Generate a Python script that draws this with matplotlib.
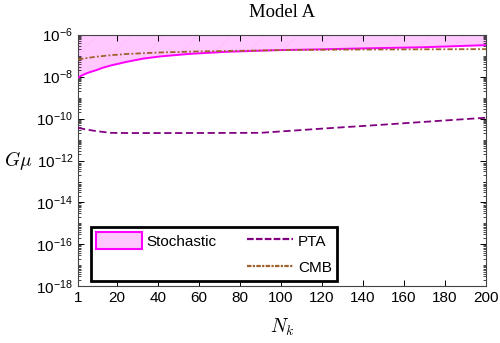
import numpy as np
import matplotlib
matplotlib.use('Agg')
import matplotlib.pyplot as plt
from matplotlib.patches import Patch
from matplotlib.lines import Line2D
from matplotlib.ticker import LogLocator, NullFormatter

plt.rcParams['font.family'] = ['Liberation Sans', 'DejaVu Sans']
plt.rcParams['mathtext.fontset'] = 'custom'
plt.rcParams['mathtext.rm'] = 'Liberation Sans'
plt.rcParams['mathtext.it'] = 'Liberation Sans:italic'
plt.rcParams['hatch.linewidth'] = 0.4

# curves (log10 G mu)
n_stoch = [1, 2, 3, 5, 7, 10, 13, 17, 25, 33, 41, 55, 73, 98, 120, 138, 170, 200]
log_stoch = [-8.04, -7.99, -7.94, -7.85, -7.78, -7.69, -7.58, -7.47, -7.29, -7.14, -7.04,
             -6.92, -6.82, -6.74, -6.70, -6.66, -6.60, -6.50]

n_cmb = [1, 5, 10, 17, 25, 41, 60, 80, 98, 120, 138, 170, 200]
log_cmb = [-7.18, -7.12, -7.05, -6.98, -6.92, -6.85, -6.80, -6.77, -6.74, -6.72, -6.71, -6.70, -6.69]

n_pta = [1, 5, 10, 17, 25, 50, 90, 120, 150, 180, 200]
log_pta = [-10.44, -10.52, -10.60, -10.68, -10.69, -10.69, -10.68, -10.48, -10.29, -10.09, -9.96]

xticks = [1, 20, 40, 60, 80, 100, 120, 140, 160, 180, 200]

fig = plt.figure(figsize=(5.0, 3.43), dpi=100)
ax = fig.add_axes([0.156, 0.165, 0.816, 0.734])

stoch = 10.0 ** np.array(log_stoch)
ax.fill_between(n_stoch, stoch, 1e-6, facecolor='#ffc8ff', edgecolor='#ffb8ff',
                hatch='/', linewidth=0.0, zorder=1)
ax.plot(n_stoch, stoch, color='#ff00ff', lw=1.4, zorder=3)
ax.plot(n_pta, 10.0 ** np.array(log_pta), color='#800080', lw=1.3, ls=(0, (4, 2)), zorder=3)
ax.plot(n_cmb, 10.0 ** np.array(log_cmb), color='#a0622d', lw=1.3,
        ls=(0, (3, 1.2, 1, 1.2)), zorder=3)

ax.set_yscale('log')
ax.set_xlim(1, 200)
ax.set_ylim(1e-18, 1e-6)
ax.set_xticks(xticks)
ax.set_yticks([10.0 ** k for k in range(-18, -5, 2)])
ax.yaxis.set_minor_locator(LogLocator(base=10, subs=np.arange(1, 10), numticks=40))
ax.yaxis.set_minor_formatter(NullFormatter())
ax.tick_params(which='both', direction='in', top=True, right=True, labelsize=11)
ax.tick_params(which='major', length=4, width=0.7)
ax.tick_params(which='minor', length=2, width=0.5)
for s in ax.spines.values():
    s.set_linewidth(0.8)
    s.set_color('#444444')

ax.set_title('Model A', family='Liberation Serif', fontsize=13.5, pad=13)
ax.set_ylabel(r'$G\mu$', fontsize=14, math_fontfamily='cm', rotation=0, va='center', ha='center')
ax.yaxis.set_label_coords(-0.147, 0.5)
ax.set_xlabel(r'$N_k$', fontsize=14, math_fontfamily='cm', labelpad=8)

handles = [Patch(facecolor='#ffc8ff', edgecolor='#ff00ff', lw=1.5),
           Line2D([], [], color='none'),
           Line2D([], [], color='#800080', lw=1.6, ls=(0, (3, 1))),
           Line2D([], [], color='#a0622d', lw=1.6, ls=(0, (2, 0.6, 1, 0.6)))]
labels = ['Stochastic', '', 'PTA', 'CMB']
leg = ax.legend(handles, labels, ncol=2, loc='lower left',
                bbox_to_anchor=(0.032, 0.022, 0.603, 0.21), mode='expand',
                borderaxespad=0.0, fontsize=11, handlelength=3.0, handleheight=1.3,
                handletextpad=0.3, columnspacing=1.0, borderpad=0.35,
                labelspacing=0.65, fancybox=False, framealpha=1)
leg.get_frame().set_edgecolor('black')
leg.get_frame().set_linewidth(2.0)

fig.savefig('out.png', dpi=100)
